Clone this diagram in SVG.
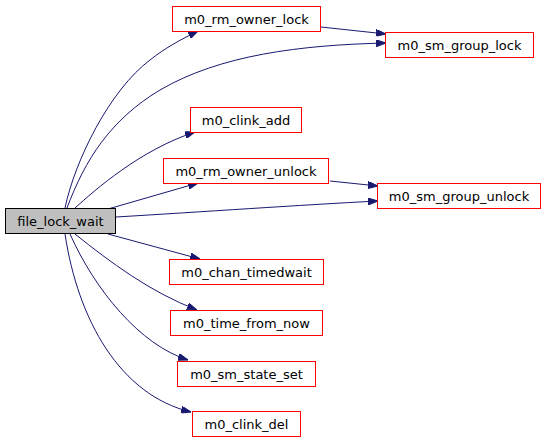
<svg xmlns="http://www.w3.org/2000/svg" width="547" height="443" viewBox="0 0 547 443">
<style>
.node rect{fill:#ffffff;stroke:#ff0000;stroke-width:1}
.node.root rect{fill:#bfbfbf;stroke:#000000}
.node text{font-family:"DejaVu Sans","Liberation Sans",sans-serif;font-size:13px;fill:#000000;text-anchor:middle}
.edge path{fill:none;stroke:#191970;stroke-width:1;marker-end:url(#arr)}
</style>
<defs>
<marker id="arr" viewBox="0 0 10 7" refX="10" refY="3.5" markerWidth="10" markerHeight="7" markerUnits="userSpaceOnUse" orient="auto">
<path d="M0,0 L10,3.5 L0,7 z" fill="#191970" stroke="#191970"/>
</marker>
</defs>
<rect width="547" height="443" fill="#ffffff"/>
<g id="edges" class="edge">
<path d="M65,208 C75,160 110,90 150,60 C165,48 180,40 198,31"/>
<path d="M67,208 C85,160 110,120 160,90 C220,55 300,45 386,43"/>
<path d="M321,27 L386,34"/>
<path d="M75,208 C95,190 140,150 195,132"/>
<path d="M108,209 L198,183"/>
<path d="M330,181 L378,186"/>
<path d="M116,217 C200,212 300,205 378,201"/>
<path d="M108,234 L200,259"/>
<path d="M75,234 C110,262 150,292 197,310"/>
<path d="M70,234 C95,290 140,345 188,360"/>
<path d="M65,234 C78,320 120,395 191,412"/>
</g>
<g id="file_lock_wait" class="node root"><rect x="5.5" y="208.5" width="110" height="25"/><text x="60.5" y="225.5">file_lock_wait</text></g>
<g id="m0_rm_owner_lock" class="node"><rect x="172.5" y="6.5" width="148" height="25"/><text x="246.5" y="23.5">m0_rm_owner_lock</text></g>
<g id="m0_sm_group_lock" class="node"><rect x="385.5" y="32.5" width="148" height="25"/><text x="459.5" y="49.5">m0_sm_group_lock</text></g>
<g id="m0_clink_add" class="node"><rect x="190.5" y="107.5" width="111" height="25"/><text x="246" y="124.5">m0_clink_add</text></g>
<g id="m0_rm_owner_unlock" class="node"><rect x="163.5" y="158.5" width="165" height="25"/><text x="246" y="175.5">m0_rm_owner_unlock</text></g>
<g id="m0_sm_group_unlock" class="node"><rect x="377.5" y="183.5" width="163" height="25"/><text x="459" y="200.5">m0_sm_group_unlock</text></g>
<g id="m0_chan_timedwait" class="node"><rect x="169.5" y="259.5" width="154" height="25"/><text x="246.5" y="276.5">m0_chan_timedwait</text></g>
<g id="m0_time_from_now" class="node"><rect x="170.5" y="310.5" width="152" height="25"/><text x="246.5" y="327.5">m0_time_from_now</text></g>
<g id="m0_sm_state_set" class="node"><rect x="177.5" y="361.5" width="138" height="25"/><text x="246.5" y="378.5">m0_sm_state_set</text></g>
<g id="m0_clink_del" class="node"><rect x="192.5" y="411.5" width="108" height="25"/><text x="246.5" y="428.5">m0_clink_del</text></g>
</svg>
